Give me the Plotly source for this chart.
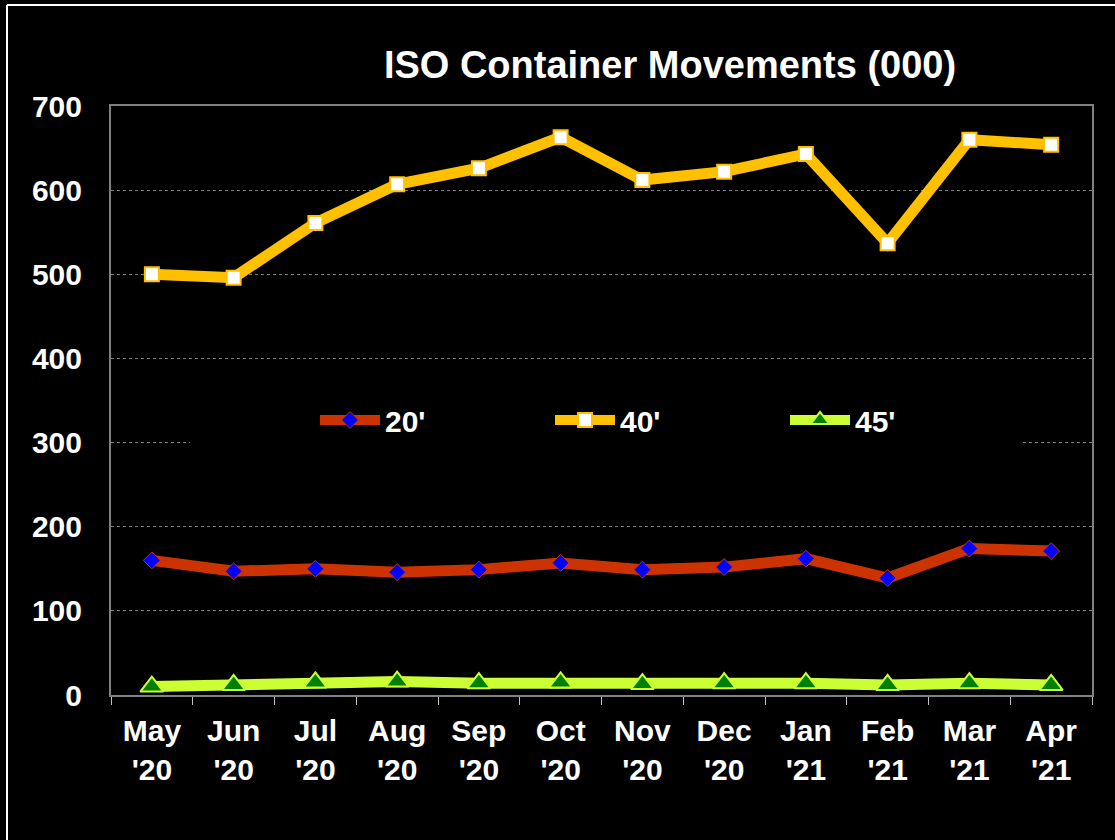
"""ISO container movements chart (Plotly)."""

import plotly.graph_objects as go

# Data
MONTHS = ["May<br>'20", "Jun<br>'20", "Jul<br>'20", "Aug<br>'20", "Sep<br>'20", "Oct<br>'20",
          "Nov<br>'20", "Dec<br>'20", "Jan<br>'21", "Feb<br>'21", "Mar<br>'21", "Apr<br>'21"]
TEU_20 = [160, 147, 150, 146, 149, 157, 149, 152, 162, 139, 174, 171]
TEU_40 = [500, 496, 561, 607, 626, 663, 612, 622, 643, 537, 660, 654]
TEU_45 = [10, 12, 15, 16, 14, 15, 13, 14, 14, 12, 14, 12]

FONT = "Liberation Sans, Arial, sans-serif"
COLOR_20 = "#CC3300"
COLOR_40 = "#FFC000"
COLOR_45 = "#CCFF33"
AXIS_GRAY = "#808080"

# plot area in pixels
W, H = 1115, 840
L, R, T, B = 111, 23, 106, 145
PW, PH = W - L - R, H - T - B


def px_x(x):
    return (x - L) / PW


def px_y(y):
    return (H - B - y) / PH


fig = go.Figure()

fig.add_trace(go.Scatter(
    x=MONTHS, y=TEU_20, mode="lines+markers", name="20'",
    line=dict(color=COLOR_20, width=11),
    marker=dict(symbol="diamond", size=13, color="#0000FF",
                line=dict(color=COLOR_20, width=1)),
))
fig.add_trace(go.Scatter(
    x=MONTHS, y=TEU_40, mode="lines+markers", name="40'",
    line=dict(color=COLOR_40, width=11),
    marker=dict(symbol="square", size=14, color="#FFFFFF",
                line=dict(color=COLOR_40, width=2)),
))
fig.add_trace(go.Scatter(
    x=MONTHS, y=TEU_45, mode="lines+markers", name="45'",
    line=dict(color=COLOR_45, width=11),
    marker=dict(symbol="triangle-up", size=20, color="#008000",
                line=dict(color=COLOR_45, width=2)),
))

# white frame (top and left edges)
fig.add_shape(type="line", xref="paper", yref="paper",
              x0=px_x(7), x1=px_x(W + 5), y0=px_y(5), y1=px_y(5),
              line=dict(color="white", width=2))
fig.add_shape(type="line", xref="paper", yref="paper",
              x0=px_x(7), x1=px_x(7), y0=px_y(5), y1=px_y(H + 5),
              line=dict(color="white", width=2))

# black legend box hiding gridline behind it
fig.add_shape(type="rect", xref="paper", yref="paper",
              x0=px_x(190), x1=px_x(1022), y0=px_y(447), y1=px_y(398),
              fillcolor="black", line=dict(width=0), layer="above")

fig.update_layout(
    width=W,
    height=H,
    margin=dict(l=L, r=R, t=T, b=B),
    paper_bgcolor="black",
    plot_bgcolor="black",
    font=dict(family=FONT, color="white"),
    title=dict(
        text="ISO Container Movements (000)",
        font=dict(family=FONT, size=38, color="white", weight="bold"),
        x=670 / W, xanchor="center", xref="container",
        y=1 - 65 / H, yanchor="middle", yref="container",
    ),
    xaxis=dict(
        type="category",
        range=[-0.5, 11.5],
        showline=True, linecolor=AXIS_GRAY, linewidth=2, mirror=True,
        ticks="outside", tickson="boundaries", ticklen=8, tickcolor="#C0C0C0",
        ticklabelstandoff=8,
        tickfont=dict(family=FONT, size=30, color="white", weight="bold"),
        showgrid=False,
    ),
    yaxis=dict(
        range=[0, 700], dtick=100,
        showline=True, linecolor=AXIS_GRAY, linewidth=2, mirror=True,
        showgrid=True, gridcolor=AXIS_GRAY, gridwidth=1, griddash="dot",
        zeroline=False,
        ticks="", ticklabelstandoff=21,
        tickfont=dict(family=FONT, size=30, color="white", weight="bold"),
    ),
    legend=dict(
        orientation="h",
        x=px_x(315), xanchor="left",
        y=px_y(420), yanchor="middle",
        bgcolor="rgba(0,0,0,0)",
        font=dict(family=FONT, size=30, color="white", weight="bold"),
        entrywidth=160,
        itemwidth=60,
    ),
    showlegend=True,
)

# page body margin would shift the figure by 8px
fig.write_html(
    "out.html",
    config={"displayModeBar": False},
    post_script="document.body.style.margin='0';",
)
